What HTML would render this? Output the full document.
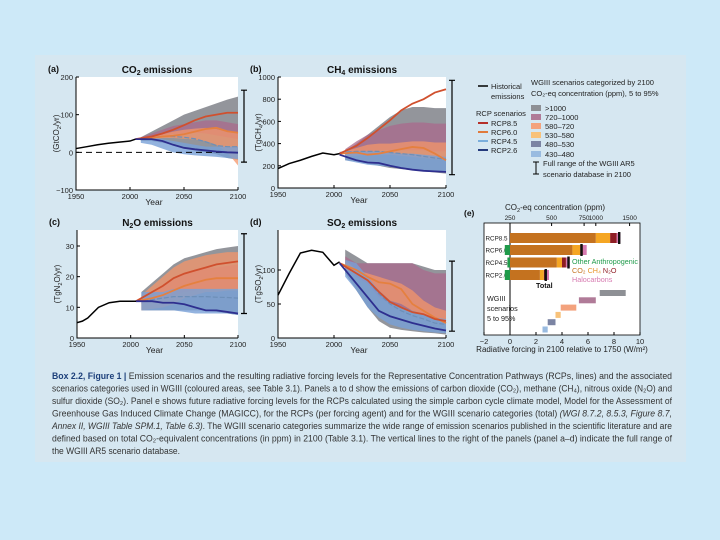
<!DOCTYPE html>
<html><head><meta charset="utf-8"><style>
html,body{margin:0;padding:0;background:#cde9f8;}
svg{display:block;font-family:"Liberation Sans",sans-serif;}
</style></head><body>
<svg id="fig" width="720" height="540" viewBox="0 0 720 540">
<rect x="0" y="0" width="720" height="540" fill="#cde9f8"/>
<rect x="35" y="55" width="651" height="407" fill="#d6e7f1"/>
<g id="plots"></g>
<g id="legend" font-size="7.5" fill="#222">
<line x1="478" y1="86" x2="488" y2="86" stroke="#000" stroke-width="1.5"/>
<text x="491" y="89">Historical</text><text x="491" y="99">emissions</text>
<text x="531" y="85">WGIII scenarios categorized by 2100</text>
<text x="531" y="96">CO₂-eq concentration (ppm), 5 to 95%</text>
<text x="476" y="116">RCP scenarios</text>
<line x1="478" y1="123" x2="488" y2="123" stroke="#b5302a" stroke-width="2"/><text x="491" y="126">RCP8.5</text>
<line x1="478" y1="132" x2="488" y2="132" stroke="#e07a3c" stroke-width="2"/><text x="491" y="135">RCP6.0</text>
<line x1="478" y1="141" x2="488" y2="141" stroke="#7aaedc" stroke-width="2"/><text x="491" y="144">RCP4.5</text>
<line x1="478" y1="150" x2="488" y2="150" stroke="#243a7c" stroke-width="2"/><text x="491" y="153">RCP2.6</text>
<rect x="531" y="105" width="10" height="6" fill="#8e9095"/><text x="545" y="111">&gt;1000</text>
<rect x="531" y="114" width="10" height="6" fill="#b07b98"/><text x="545" y="120">720–1000</text>
<rect x="531" y="123" width="10" height="6" fill="#f3a27d"/><text x="545" y="129">580–720</text>
<rect x="531" y="132" width="10" height="6" fill="#f8c27a"/><text x="545" y="138">530–580</text>
<rect x="531" y="141" width="10" height="6" fill="#7b84a3"/><text x="545" y="147">480–530</text>
<rect x="531" y="151" width="10" height="6" fill="#99bbe0"/><text x="545" y="157">430–480</text>
<path d="M533 162h6M536 162v12M533 174h6" stroke="#000" stroke-width="1" fill="none"/>
<text x="543" y="166">Full range of the WGIII AR5</text>
<text x="543" y="177">scenario database in 2100</text>
</g>
<g id="panelE"></g>
<g id="caption" font-size="9.6" fill="#333">
<text x="52" y="379" textLength="620" lengthAdjust="spacingAndGlyphs"><tspan font-weight="bold" fill="#1c3f7a">Box 2.2, Figure 1 | </tspan>Emission scenarios and the resulting radiative forcing levels for the Representative Concentration Pathways (RCPs, lines) and the associated</text>
<text x="52" y="391.5" textLength="620" lengthAdjust="spacingAndGlyphs">scenarios categories used in WGIII (coloured areas, see Table 3.1). Panels a to d show the emissions of carbon dioxide (CO₂), methane (CH₄), nitrous oxide (N₂O) and</text>
<text x="52" y="404" textLength="620" lengthAdjust="spacingAndGlyphs">sulfur dioxide (SO₂). Panel e shows future radiative forcing levels for the RCPs calculated using the simple carbon cycle climate model, Model for the Assessment of</text>
<text x="52" y="416.5" textLength="620" lengthAdjust="spacingAndGlyphs">Greenhouse Gas Induced Climate Change (MAGICC), for the RCPs (per forcing agent) and for the WGIII scenario categories (total) <tspan font-style="italic">(WGI 8.7.2, 8.5.3, Figure 8.7,</tspan></text>
<text x="52" y="429" textLength="620" lengthAdjust="spacingAndGlyphs"><tspan font-style="italic">Annex II, WGIII Table SPM.1, Table 6.3)</tspan>. The WGIII scenario categories summarize the wide range of emission scenarios published in the scientific literature and are</text>
<text x="52" y="441.5" textLength="620" lengthAdjust="spacingAndGlyphs">defined based on total CO₂-equivalent concentrations (in ppm) in 2100 (Table 3.1). The vertical lines to the right of the panels (panel a–d) indicate the full range of</text>
<text x="52" y="454" textLength="128" lengthAdjust="spacingAndGlyphs">the WGIII AR5 scenario database.</text>
</g>
</svg>
<script>
const bandYears = [2010,2020,2030,2040,2050,2060,2070,2080,2090,2100];
const rcpYears = [2005,2020,2030,2040,2050,2060,2070,2080,2090,2100];
// Panel a CO2
const histYearsA = [1950,1960,1970,1980,1990,2000,2005];
const histA = [10,15,20,24,27,30,35];
const rcp85A = [35,42,50,60,72,85,95,100,105,105];
const rcp60A = [35,38,42,44,48,55,62,65,56,52];
const rcp45A = [35,40,42,42,40,36,28,18,15,15];
const rcp26A = [35,35,30,20,12,8,5,2,0,-1];
const grayLoA = [30,30,25,20,10,5,0,-5,-15,-20], grayHiA = [40,55,70,85,100,110,120,130,140,148];
const mauveLoA = [35,40,45,48,50,52,50,45,40,35], mauveHiA = [40,50,60,70,75,80,85,85,80,75];
const salmonLoA = [32,35,38,38,36,34,30,20,0,-35], salmonHiA = [38,42,48,55,60,63,65,62,55,50];
const blueLoA = [25,20,10,0,-5,-8,-10,-12,-15,-18], blueHiA = [38,40,35,30,25,20,15,15,15,15];
// Panel b CH4
const histYearsB = [1950,1960,1970,1980,1990,2000,2005];
const histB = [175,220,250,285,315,300,310];
const rcp85B = [310,380,450,530,610,700,760,800,860,890];
const rcp60B = [310,320,300,310,330,350,370,360,310,250];
const rcp45B = [320,330,330,330,320,310,300,285,270,260];
const rcp26B = [300,250,230,225,200,180,165,155,150,145];
const grayLoB = [250,240,220,200,180,170,160,150,140,130], grayHiB = [330,400,480,560,640,700,730,730,720,720];
const mauveLoB = [300,320,330,340,340,340,340,340,330,330], mauveHiB = [350,420,480,520,560,580,590,590,580,580];
const salmonLoB = [280,290,300,300,300,290,280,270,260,250], salmonHiB = [330,360,390,400,400,410,420,420,410,410];
const blueLoB = [250,230,210,200,190,180,170,160,150,140], blueHiB = [330,330,330,330,320,310,310,300,290,280];
// Panel c N2O
const histYearsC = [1950,1955,1960,1970,1980,1990,2000,2005];
const histC = [5,5.5,6.5,10,11.5,12,12,12];
const rcp85C = [12,15,17,19.5,21,22,23,24,24.5,25];
const rcp60C = [12,13,14,15.5,17,18,19,19.5,19.5,19.5];
const rcp45C = [12,12.5,13,13.5,13.5,13.5,13.5,13.3,13.2,13];
const rcp26C = [12,12,11.5,11.5,11,10,9,9,8.5,8];
const grayLoC = [9,9,9,9,9,9,9,8.5,8,7.5], grayHiC = [15,18,21,24,26,27,28,29,29.5,30];
const mauveLoC = [11,12,13,14,15,15.5,16,16,16,16], mauveHiC = [13,15,17,19,21,22,23,23,23.5,24];
const salmonLoC = [9,9.5,10,11,13,14,15,15,15.5,15.5], salmonHiC = [14,17,20,23,25,26,27,27.5,28,28];
const blueLoC = [9,9,9,9,8.5,8,8,8,8,7.5], blueHiC = [15,15,15,16,16,16,16,16,16,16];
// Panel d SO2
const histYearsD = [1950,1960,1970,1980,1990,2000,2005];
const histD = [63,95,125,129,126,107,112];
const rcp85D = [110,95,85,68,53,45,38,35,28,25];
const rcp60D = [110,100,90,82,80,72,50,40,30,22];
const rcp45D = [110,95,85,65,50,40,33,28,22,20];
const rcp26D = [110,80,60,40,32,27,22,18,14,11];
const grayLoD = [95,70,45,25,15,12,10,8,7,5], grayHiD = [130,120,110,110,110,110,110,105,100,100];
const mauveLoD = [110,90,80,60,50,45,40,35,30,25], mauveHiD = [120,110,110,110,110,110,110,100,95,95];
const salmonLoD = [100,95,85,70,55,50,40,35,30,25], salmonHiD = [115,100,95,90,85,80,70,55,45,40];
const blueLoD = [90,70,45,30,20,15,12,10,8,7], blueHiD = [115,110,90,70,55,45,40,35,30,28];
// full ranges in 2100
const rangeA=[-26,165], rangeB=[120,970], rangeC=[8,34], rangeD=[10,113];
// Panel e
const rcpNames = ["RCP8.5","RCP6.0","RCP4.5","RCP2.6"];
const otherAnth = [0,-0.4,-0.2,-0.4];
const co2F = [6.6,4.8,3.6,2.3];
const ch4F = [7.7,5.4,4.0,2.6];
const n2oF = [8.2,5.6,4.3,2.8];
const totalF = [8.4,5.5,4.5,2.75];
const haloF = [8.5,5.9,4.6,3.0];
const wgLo = [6.9,5.3,3.9,3.5,2.9,2.5];
const wgHi = [8.9,6.6,5.1,3.9,3.5,2.9];
const xTicksE = [-2,0,2,4,6,8,10];
const ppmTicks = ["250","500","750","1000","1500"];
const ppmForcing = [0,3.2,5.7,6.6,9.2];

const NS="http://www.w3.org/2000/svg";
function mk(tag,attrs,parent){const e=document.createElementNS(NS,tag);for(const k in attrs)e.setAttribute(k,attrs[k]);parent.appendChild(e);return e;}
const plots=document.getElementById('plots');
const colors={gray:"rgba(128,131,137,0.85)",mauve:"rgba(170,105,140,0.75)",salmon:"rgba(244,150,105,0.75)",blue:"rgba(120,160,215,0.8)"};
const sub=s=>`<tspan font-size="70%" dy="2">${s}</tspan><tspan dy="-2">\u200b</tspan>`;

function panel(p){
  const g=mk('g',{},plots);
  
  
  const X=y=>p.x0+(y-1950)/150*(p.x1-p.x0);
  const Y=v=>p.yb+(v-p.vmin)/(p.vmax-p.vmin)*(p.yt-p.yb);
  const bg=mk('rect',{x:p.x0,y:p.top,width:p.x1-p.x0,height:p.yb-p.top,fill:"#fff"},g);
  
  
  function band(lo,hi,col,nm){
    let d="M"+bandYears.map((yr,i)=>X(yr)+","+Y(hi[i])).join("L");
    for(let i=bandYears.length-1;i>=0;i--)d+="L"+X(bandYears[i])+","+Y(lo[i]);
    const e=mk('path',{d:d+"Z",fill:col},g);
    
    
  }
  band(p.gray[0],p.gray[1],colors.gray,'band-above-1000');
  band(p.mauve[0],p.mauve[1],colors.mauve,'band-720-1000');
  band(p.salmon[0],p.salmon[1],colors.salmon,'band-580-720');
  band(p.blue[0],p.blue[1],colors.blue,'band-430-530');
  function line(xs,vs,col,w,nm,dash){
    const e=mk('polyline',{points:xs.map((yr,i)=>X(yr)+","+Y(vs[i])).join(" "),fill:"none",stroke:col,"stroke-width":w},g);
    if(dash)e.setAttribute('stroke-dasharray',dash);
    
    
  }
  if(p.zeroDash){const z=mk('line',{x1:p.x0,x2:X(2090),y1:Y(0),y2:Y(0),stroke:"#000","stroke-width":1,"stroke-dasharray":"6,4"},g);
    
    }
  line(rcpYears,p.r45,"#6d8fb8",1.2,'rcp45-line',"5,2");
  line(rcpYears,p.r60,"#e5803f",1.8,'rcp60-line');
  line(rcpYears,p.r85,"#d0502e",1.8,'rcp85-line');
  line(rcpYears,p.r26,"#2e2f8f",1.8,'rcp26-line');
  line(p.hx,p.hv,"#000",1.5,'historical-line');
  mk('path',{d:`M${p.x0},${p.top}V${p.yb}H${p.x1}`,stroke:"#000","stroke-width":1,fill:"none"},g);
  p.yt_ticks.forEach(v=>{mk('line',{x1:p.x0,x2:p.x0+3,y1:Y(v),y2:Y(v),stroke:"#000"},g);
    const t=mk('text',{x:p.x0-3,y:Y(v)+3,"text-anchor":"end","font-size":"7.5",fill:"#222"},g);t.textContent=(v<0?"−":"")+Math.abs(v);
    
    });
  [1950,2000,2050,2100].forEach(yr=>{mk('line',{x1:X(yr),x2:X(yr),y1:p.yb,y2:p.yb-3,stroke:"#000"},g);
    const t=mk('text',{x:X(yr),y:p.yb+9,"text-anchor":"middle","font-size":"7.5",fill:"#222"},g);t.textContent=yr;
    
    });
  const xl=mk('text',{x:(p.x0+p.x1)/2-3,y:p.yb+15,"text-anchor":"middle","font-size":"8.5",fill:"#222"},g);xl.textContent="Year";
  
  
  const yl=mk('text',{transform:`translate(${p.x0-17},${(p.top+p.yb)/2}) rotate(-90)`,"text-anchor":"middle","font-size":"8",fill:"#222"},g);yl.innerHTML=p.ylab;
  
  
  const lb=mk('text',{x:p.x0-28,y:p.top-5,"font-size":"9","font-weight":"bold",fill:"#111"},g);lb.textContent=p.label;
  
  
  const tt=mk('text',{x:(p.x0+p.x1)/2,y:p.top-4,"text-anchor":"middle","font-size":"10","font-weight":"bold",fill:"#111"},g);tt.innerHTML=p.title;
  
  
  const rx=p.x1+6, ra=Y(p.range[0]), rb=Y(p.range[1]);
  const rr=mk('path',{d:`M${rx},${ra}V${rb}M${rx-3},${ra}H${rx+3}M${rx-3},${rb}H${rx+3}`,stroke:"#000","stroke-width":1.2,fill:"none"},g);
  
  
}
panel({name:'co2-panel',label:"(a)",title:"CO"+sub("2")+" emissions",ylab:"(GtCO"+sub("2")+"/yr)",x0:76,x1:238,top:77,yt:77,yb:190,vmin:-100,vmax:200,yt_ticks:[-100,0,100,200],
 hx:histYearsA,hv:histA,r85:rcp85A,r60:rcp60A,r45:rcp45A,r26:rcp26A,gray:[grayLoA,grayHiA],mauve:[mauveLoA,mauveHiA],salmon:[salmonLoA,salmonHiA],blue:[blueLoA,blueHiA],zeroDash:true,range:rangeA});
panel({name:'ch4-panel',label:"(b)",title:"CH"+sub("4")+" emissions",ylab:"(TgCH"+sub("4")+"/yr)",x0:278,x1:446,top:77,yt:77,yb:188,vmin:0,vmax:1000,yt_ticks:[0,200,400,600,800,1000],
 hx:histYearsB,hv:histB,r85:rcp85B,r60:rcp60B,r45:rcp45B,r26:rcp26B,gray:[grayLoB,grayHiB],mauve:[mauveLoB,mauveHiB],salmon:[salmonLoB,salmonHiB],blue:[blueLoB,blueHiB],range:rangeB});
panel({name:'n2o-panel',label:"(c)",title:"N"+sub("2")+"O emissions",ylab:"(TgN"+sub("2")+"O/yr)",x0:77,x1:238,top:230,yt:246,yb:338,vmin:0,vmax:30,yt_ticks:[0,10,20,30],
 hx:histYearsC,hv:histC,r85:rcp85C,r60:rcp60C,r45:rcp45C,r26:rcp26C,gray:[grayLoC,grayHiC],mauve:[mauveLoC,mauveHiC],salmon:[salmonLoC,salmonHiC],blue:[blueLoC,blueHiC],range:rangeC});
panel({name:'so2-panel',label:"(d)",title:"SO"+sub("2")+" emissions",ylab:"(TgSO"+sub("2")+"/yr)",x0:278,x1:446,top:230,yt:270,yb:338,vmin:0,vmax:100,yt_ticks:[0,50,100],
 hx:histYearsD,hv:histD,r85:rcp85D,r60:rcp60D,r45:rcp45D,r26:rcp26D,gray:[grayLoD,grayHiD],mauve:[mauveLoD,mauveHiD],salmon:[salmonLoD,salmonHiD],blue:[blueLoD,blueHiD],range:rangeD});

(function(){
  const g=document.getElementById('panelE');
  
  
  const X=v=>510+v*13;
  const top=223,bot=335;
  mk('rect',{x:X(-2),y:top,width:X(10)-X(-2),height:bot-top,fill:"#fff",stroke:"#000","stroke-width":0.8},g);
  mk('line',{x1:X(0),x2:X(0),y1:top,y2:bot,stroke:"#000","stroke-width":1},g);
  xTicksE.forEach(v=>{mk('line',{x1:X(v),x2:X(v),y1:bot,y2:bot-3,stroke:"#000"},g);
    const t=mk('text',{x:X(v),y:bot+9,"text-anchor":"middle","font-size":"7.5",fill:"#222"},g);t.textContent=(v<0?"−":"")+Math.abs(v);
    
    });
  ppmTicks.forEach((s,i)=>{mk('line',{x1:X(ppmForcing[i]),x2:X(ppmForcing[i]),y1:top,y2:top+3,stroke:"#000"},g);
    const t=mk('text',{x:X(ppmForcing[i]),y:top-3,"text-anchor":"middle","font-size":"6.5",fill:"#222"},g);t.textContent=s;
    
    });
  const t1=mk('text',{x:555,y:210,"text-anchor":"middle","font-size":"8",fill:"#222"},g);t1.innerHTML="CO"+sub("2")+"-eq concentration (ppm)";
  
  
  const t2=mk('text',{x:562,y:352,"text-anchor":"middle","font-size":"8",fill:"#222"},g);t2.textContent="Radiative forcing in 2100 relative to 1750 (W/m²)";
  
  
  const lab=mk('text',{x:464,y:216,"font-size":"8.5","font-weight":"bold",fill:"#111"},g);lab.textContent="(e)";
  
  
  const rowY=[233,245,257.5,270], h=10;
  rcpNames.forEach((n,i)=>{
    const y=rowY[i];
    const t=mk('text',{x:X(-2)+1.5,y:y+7.5,"font-size":"6.8",fill:"#222",textLength:"22",lengthAdjust:"spacingAndGlyphs"},g);t.textContent=n;
    
    
    const seg=(a,b,c,nm)=>{const r=mk('rect',{x:X(Math.min(a,b)),y:y,width:Math.abs(X(b)-X(a)),height:h,fill:c},g);
      
      };
    seg(n2oF[i],haloF[i],"#d77ab0",'halocarbon-bar');
    seg(ch4F[i],n2oF[i],"#8e1d24",'n2o-bar');
    seg(co2F[i],ch4F[i],"#f5a623",'ch4-bar');
    seg(0,co2F[i],"#c4721f",'co2-bar');
    seg(otherAnth[i],0,"#1f9a4a",'other-anthropogenic-bar');
    const tl=mk('rect',{x:X(totalF[i])-1.2,y:y-1,width:2.4,height:h+2,fill:"#111"},g);
    
    
  });
  const wgCols=["#8e9095","#b07b98","#f3a27d","#f8c27a","#7b84a3","#99bbe0"];
  wgLo.forEach((lo,i)=>{const r=mk('rect',{x:X(lo),y:290+i*7.3,width:X(wgHi[i])-X(lo),height:6,fill:wgCols[i]},g);
    
    });
  const ann=mk('g',{"font-size":"7.2"},g);
  
  
  ann.innerHTML=`<text x="572" y="264" fill="#1f9a4a">Other Anthropogenic</text>
  <text x="572" y="273"><tspan fill="#c4721f">CO₂</tspan> <tspan fill="#e8962a">CH₄</tspan> <tspan fill="#8e1d24">N₂O</tspan></text>
  <text x="572" y="282" fill="#d77ab0">Halocarbons</text>
  <text x="536" y="288" font-weight="bold" fill="#111">Total</text>
  <text x="487" y="301" fill="#222">WGIII</text><text x="487" y="311" fill="#222">scenarios</text><text x="487" y="321" fill="#222">5 to 95%</text>`;
})();
</script>
</body></html>
